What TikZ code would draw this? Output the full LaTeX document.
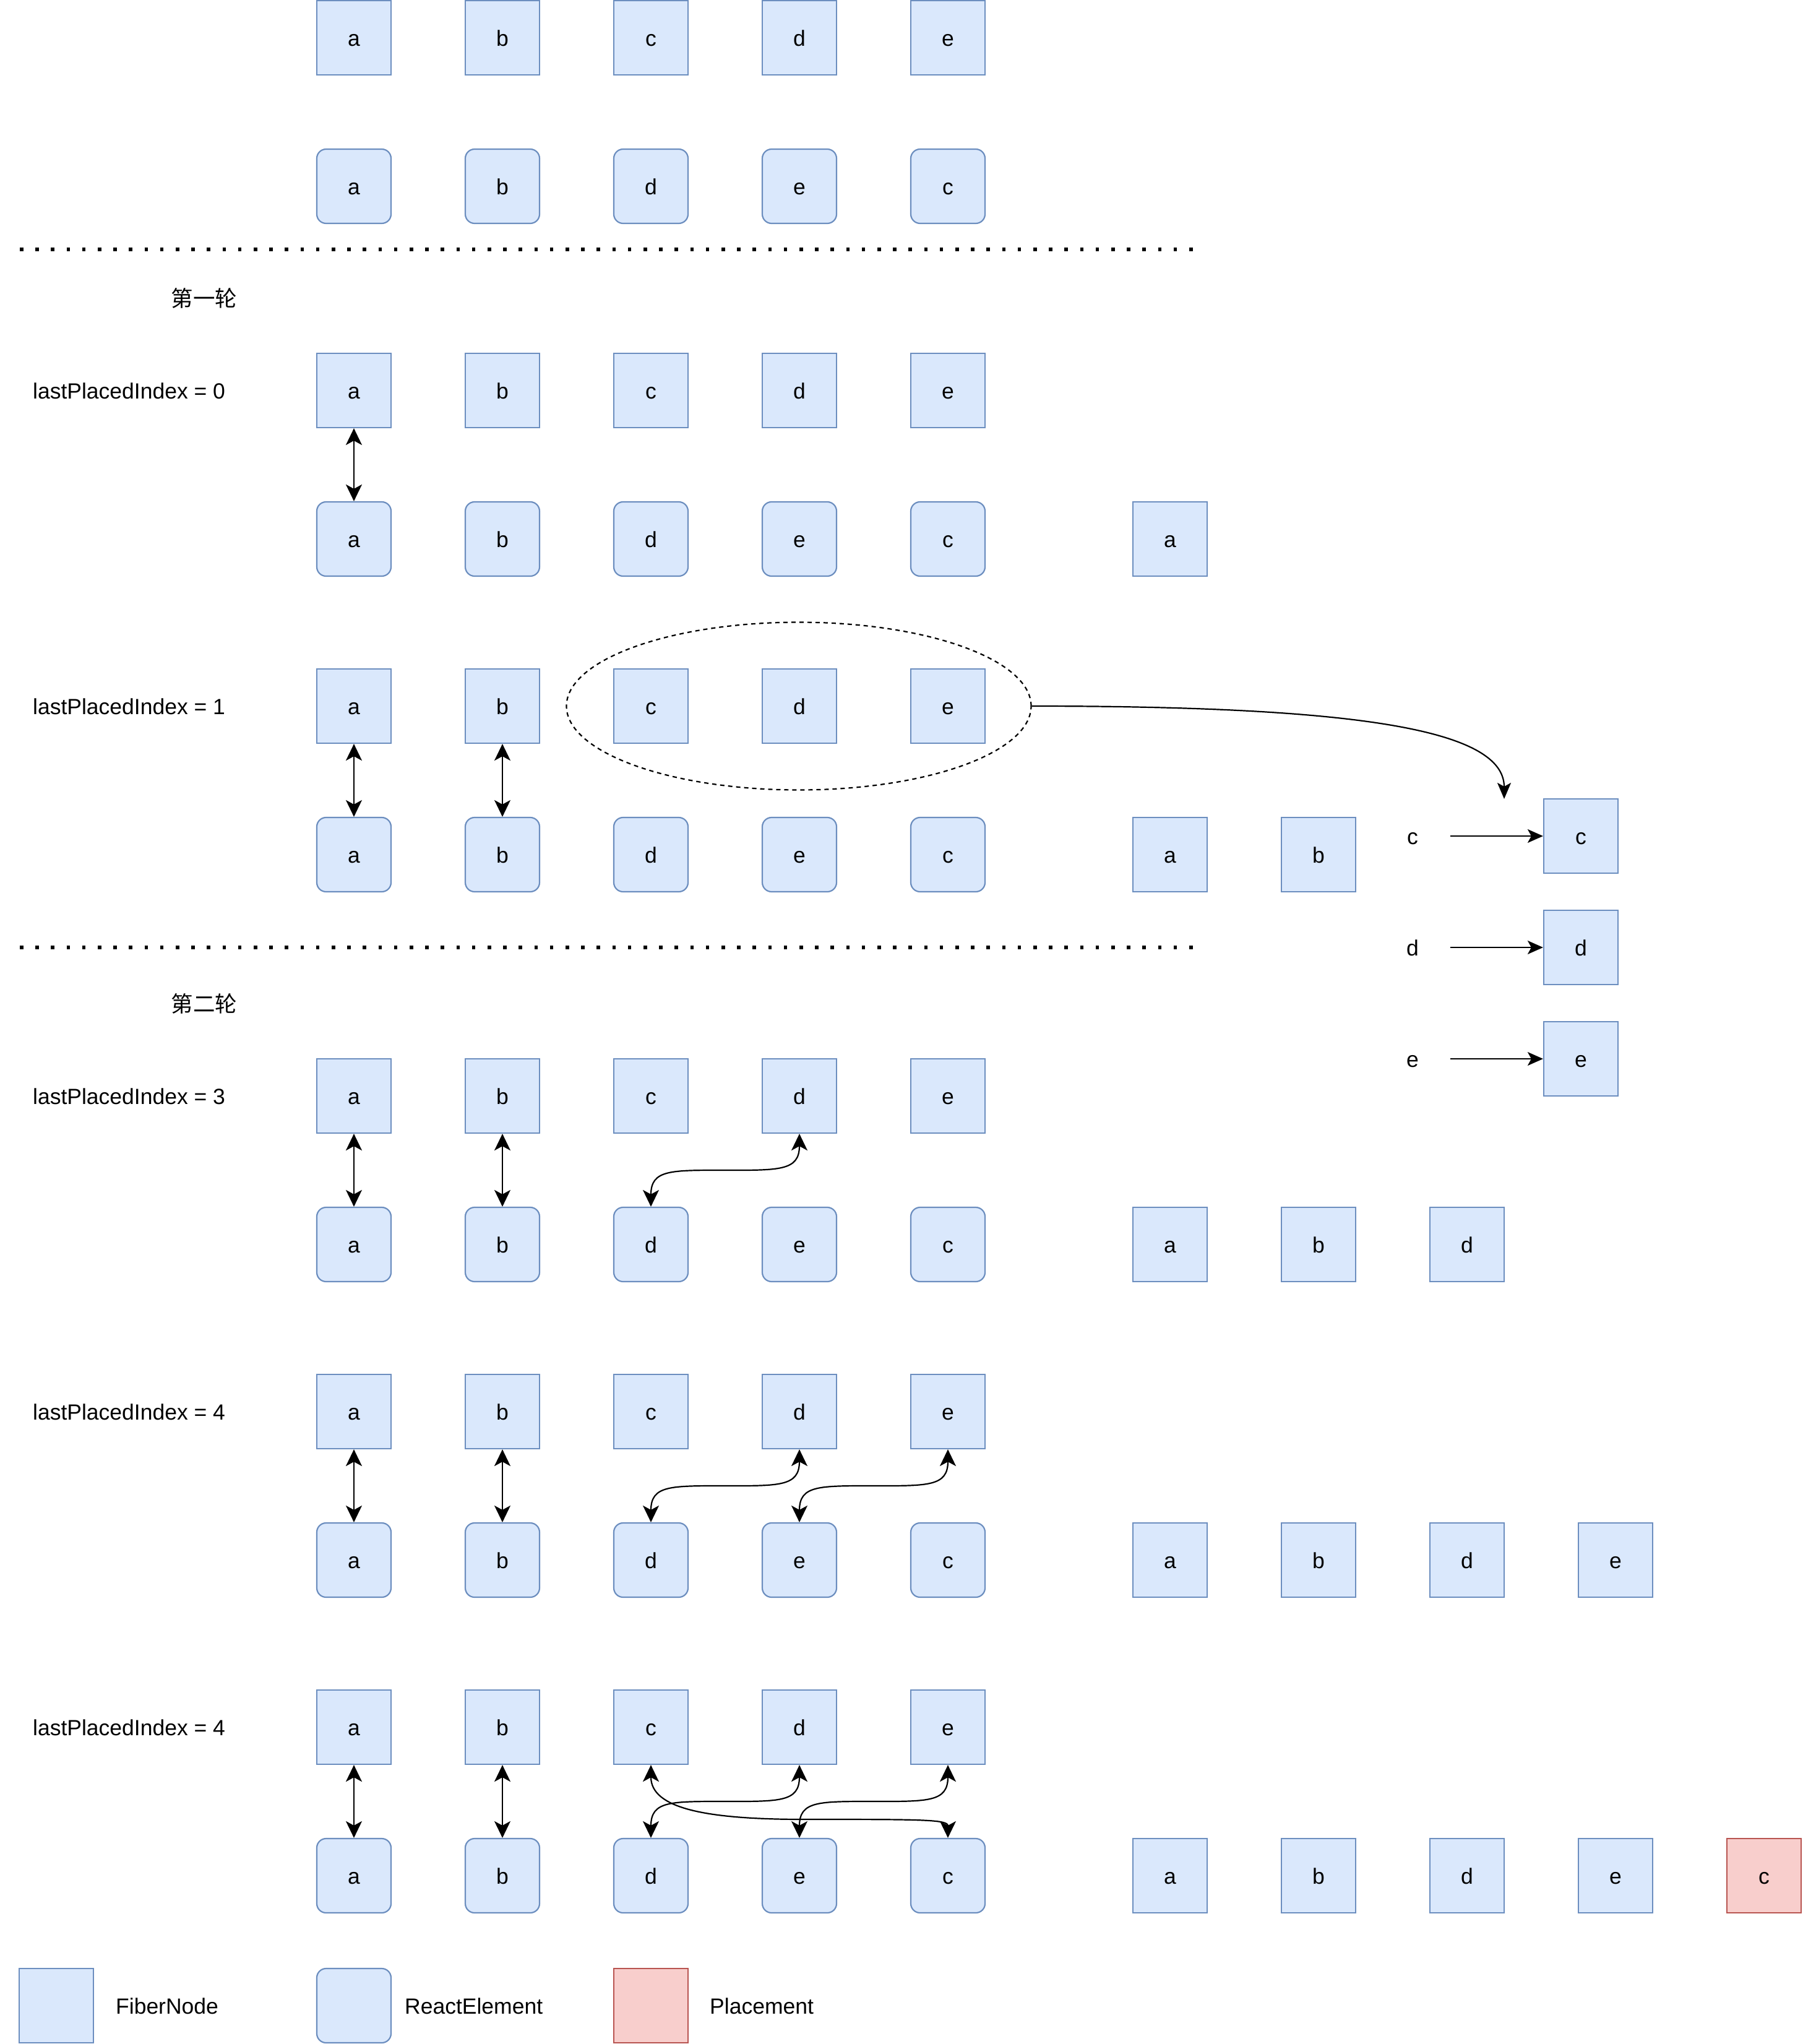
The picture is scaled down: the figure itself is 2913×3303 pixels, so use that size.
\documentclass[tikz,border=0pt]{standalone}
\usepackage{fontspec}
\setmainfont{Liberation Sans}
\newfontfamily\cjk{Noto Sans CJK SC}
\usetikzlibrary{arrows.meta,shapes.geometric,calc}
\definecolor{fibfill}{HTML}{DAE8FC}
\definecolor{fibline}{HTML}{6C8EBF}
\definecolor{plfill}{HTML}{F8CECC}
\definecolor{plline}{HTML}{B85450}
\begin{document}
\begin{tikzpicture}[x=1pt,y=-1pt,
  every node/.style={font=\fontsize{35.5}{42}\selectfont, inner sep=0pt, text height=27pt, text depth=0pt},
  fiber/.style={draw=fibline, fill=fibfill, line width=2.2pt, minimum width=120pt, minimum height=120pt},
  relem/.style={fiber, rounded corners=15pt},
  place/.style={fiber, draw=plline, fill=plfill},
  lbl/.style={anchor=west},
  side/.style={minimum width=122pt},
  tip/.style={Stealth[length=27pt,width=26pt,inset=7pt]},
  conn/.style={line width=2.2pt, -{Stealth[length=25pt,width=22pt,inset=6pt]}},
  dconn/.style={line width=2.2pt, {Stealth[length=27pt,width=26pt,inset=7pt]}-{Stealth[length=27pt,width=26pt,inset=7pt]}},
  sep/.style={line width=5.5pt, dash pattern=on 5.5pt off 19.7pt},
]
\useasboundingbox (0,0) rectangle (2913,3303);

% ---------- header rows ----------
\foreach \l [count=\i from 0] in {a,b,c,d,e} \node[fiber] (F1\l) at (572+240*\i,61) {\l};
\foreach \l [count=\i from 0] in {a,b,d,e,c} \node[relem] (R1\l) at (572+240*\i,301) {\l};

\draw[sep] (32,403) -- (1934,403);
\node (t1) at (330,482) {\cjk 第一轮};

% ---------- round 1, step 1 ----------
\node[lbl] (L2) at (53,631) {lastPlacedIndex = 0};
\foreach \l [count=\i from 0] in {a,b,c,d,e} \node[fiber] (F2\l) at (572+240*\i,631) {\l};
\foreach \l [count=\i from 0] in {a,b,d,e,c} \node[relem] (R2\l) at (572+240*\i,871) {\l};
\node[fiber] (P2a) at (1891,871) {a};
\draw[dconn] (F2a) -- (R2a);

% ---------- round 1, step 2 ----------
\node[lbl] (L3) at (53,1141) {lastPlacedIndex = 1};
\foreach \l [count=\i from 0] in {a,b,c,d,e} \node[fiber] (F3\l) at (572+240*\i,1141) {\l};
\foreach \l [count=\i from 0] in {a,b,d,e,c} \node[relem] (R3\l) at (572+240*\i,1381) {\l};
\node[fiber] (P3a) at (1891,1381) {a};
\node[fiber] (P3b) at (2131,1381) {b};
\draw[dconn] (F3a) -- (R3a);
\draw[dconn] (F3b) -- (R3b);
\node[ellipse, draw, line width=2.2pt, dash pattern=on 7pt off 6pt, minimum width=751pt, minimum height=271pt] (ell) at (1291,1141) {};

\node[fiber] (Qc) at (2555,1351) {c};
\node[fiber] (Qd) at (2555,1531) {d};
\node[fiber] (Qe) at (2555,1711) {e};
\node[side] (Sc) at (2283,1351) {c};
\node[side] (Sd) at (2283,1531) {d};
\node[side] (Se) at (2283,1711) {e};
\draw[conn] (Sc) -- (Qc);
\draw[conn] (Sd) -- (Qd);
\draw[conn] (Se) -- (Qe);
\coordinate (tipc) at (2431,1291);
\draw[line width=2.2pt, -{Stealth[length=26pt,width=22pt,inset=6pt]}] (ell.east) .. controls +(533,0) and +(0,-111) .. (tipc);

\draw[sep] (32,1531) -- (1934,1531);
\node (t2) at (330,1622) {\cjk 第二轮};

% ---------- round 2, step 1 ----------
\node[lbl] (L4) at (53,1771) {lastPlacedIndex = 3};
\foreach \l [count=\i from 0] in {a,b,c,d,e} \node[fiber] (F4\l) at (572+240*\i,1771) {\l};
\foreach \l [count=\i from 0] in {a,b,d,e,c} \node[relem] (R4\l) at (572+240*\i,2011) {\l};
\foreach \l [count=\i from 0] in {a,b,d} \node[fiber] (P4\l) at (1891+240*\i,2011) {\l};
\draw[dconn] (F4a) -- (R4a);
\draw[dconn] (F4b) -- (R4b);
\draw[dconn] (F4d.south) .. controls +(0,60) and +(88,0) .. ($(F4d.south)!0.5!(R4d.north)$) .. controls +(-88,0) and +(0,-60) .. (R4d.north);

% ---------- round 2, step 2 ----------
\node[lbl] (L5) at (53,2281) {lastPlacedIndex = 4};
\foreach \l [count=\i from 0] in {a,b,c,d,e} \node[fiber] (F5\l) at (572+240*\i,2281) {\l};
\foreach \l [count=\i from 0] in {a,b,d,e,c} \node[relem] (R5\l) at (572+240*\i,2521) {\l};
\foreach \l [count=\i from 0] in {a,b,d,e} \node[fiber] (P5\l) at (1891+240*\i,2521) {\l};
\draw[dconn] (F5a) -- (R5a);
\draw[dconn] (F5b) -- (R5b);
\draw[dconn] (F5d.south) .. controls +(0,60) and +(88,0) .. ($(F5d.south)!0.5!(R5d.north)$) .. controls +(-88,0) and +(0,-60) .. (R5d.north);
\draw[dconn] (F5e.south) .. controls +(0,60) and +(88,0) .. ($(F5e.south)!0.5!(R5e.north)$) .. controls +(-88,0) and +(0,-60) .. (R5e.north);

% ---------- round 2, step 3 ----------
\node[lbl] (L6) at (53,2791) {lastPlacedIndex = 4};
\foreach \l [count=\i from 0] in {a,b,c,d,e} \node[fiber] (F6\l) at (572+240*\i,2791) {\l};
\foreach \l [count=\i from 0] in {a,b,d,e,c} \node[relem] (R6\l) at (572+240*\i,3031) {\l};
\foreach \l [count=\i from 0] in {a,b,d,e} \node[fiber] (P6\l) at (1891+240*\i,3031) {\l};
\node[place] (P6c) at (2851,3031) {c};
\draw[dconn] (F6a) -- (R6a);
\draw[dconn] (F6b) -- (R6b);
\draw[dconn] (F6d.south) .. controls +(0,60) and +(88,0) .. ($(F6d.south)!0.5!(R6d.north)$) .. controls +(-88,0) and +(0,-60) .. (R6d.north);
\draw[dconn] (F6e.south) .. controls +(0,60) and +(88,0) .. ($(F6e.south)!0.5!(R6e.north)$) .. controls +(-88,0) and +(0,-60) .. (R6e.north);
\coordinate (cm) at (1300,2940);
\draw[dconn] (F6c.south) .. controls +(0,70) and +(-160,0) .. (cm) .. controls +(190,0) and +(0,-30) .. (R6c.north);

% ---------- legend ----------
\node[fiber] (LgF) at (91,3241) {};
\node[lbl] (LgFt) at (187,3241) {FiberNode};
\node[relem] (LgR) at (572,3241) {};
\node[lbl] (LgRt) at (654,3241) {ReactElement};
\node[place] (LgP) at (1052,3241) {};
\node[lbl] (LgPt) at (1147,3241) {Placement};
\end{tikzpicture}
\end{document}
